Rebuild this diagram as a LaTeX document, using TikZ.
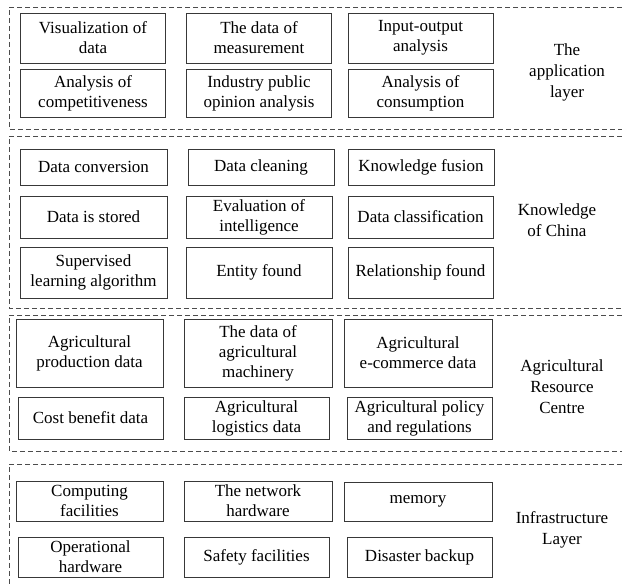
\documentclass[tikz,border=0pt]{standalone}
\usepackage{fontspec}
\setmainfont{LiberationSerif}[Extension=.ttf, UprightFont=*-Regular,
  BoldFont=*-Bold, ItalicFont=*-Italic, BoldItalicFont=*-BoldItalic]
\begin{document}
\begin{tikzpicture}[x=1pt,y=-1pt,
  cellbox/.style={draw=black!78, line width=0.9pt, rectangle, inner sep=0pt,
    align=center, font=\fontsize{17}{20}\selectfont},
  layerlabel/.style={align=center, inner sep=0pt, font=\fontsize{17}{21}\selectfont},
  layerline/.style={draw=black!70, line width=0.8pt, dash pattern=on 5pt off 3pt}]
\useasboundingbox (0,0) rectangle (622,585);

% box given by its corners x1,y1,x2,y2
\newcommand\cellat[6]{%
  \node[cellbox, minimum width={#4-#2}, minimum height={#5-#3}]
    (#1) at ({(#2+#4)/2},{(#3+#5)/2}) {#6};}

% layer frames, open to the right
\draw[layerline] (622,7) -- (9,7) -- (9,129) -- (622,129);
\draw[layerline] (622,136) -- (9,136) -- (9,308) -- (622,308);
\draw[layerline] (622,315) -- (9,315) -- (9,451) -- (622,451);
\draw[layerline] (622,464) -- (9,464) -- (9,586);

% application layer
\cellat{a1}{20.5}{13}{165.5}{63}{Visualization of\\data}
\cellat{a2}{186.5}{13}{331.5}{63}{The data of\\measurement}
\cellat{a3}{348}{13}{493}{63}{Input-output\\analysis}
\cellat{a4}{20.5}{69}{165.5}{117}{Analysis of\\competitiveness}
\cellat{a5}{186.5}{69}{331.5}{117}{Industry public\\opinion analysis}
\cellat{a6}{348}{69}{493}{117}{Analysis of\\consumption}
\node[layerlabel] (la) at (567,72) {The\\application\\layer};

% knowledge layer
\cellat{k1}{20}{149}{167}{185}{Data conversion}
\cellat{k2}{188}{149}{334}{185}{Data cleaning}
\cellat{k3}{348}{149}{494}{185}{Knowledge fusion}
\cellat{k4}{20}{196}{167}{238}{Data is stored}
\cellat{k5}{186}{196}{332}{238}{Evaluation of\\intelligence}
\cellat{k6}{348}{196}{493}{238}{Data classification}
\cellat{k7}{20}{247}{167}{298}{Supervised\\learning algorithm}
\cellat{k8}{186}{247}{332}{298}{Entity found}
\cellat{k9}{348}{247}{493}{298}{Relationship found}
\node[layerlabel] (lk) at (557,220) {Knowledge\\of China};

% resource layer
\cellat{r1}{16}{319}{163}{387}{Agricultural\\production data}
\cellat{r2}{184}{319}{332}{387}{The data of\\agricultural\\machinery}
\cellat{r3}{344}{319}{492}{387}{Agricultural\\e-commerce data}
\cellat{r4}{18}{397}{163}{439}{Cost benefit data}
\cellat{r5}{184}{397}{329}{439}{Agricultural\\logistics data}
\cellat{r6}{347}{397}{492}{439}{Agricultural policy\\and regulations}
\node[layerlabel] (lr) at (562,387) {Agricultural\\Resource\\Centre};

% infrastructure layer
\cellat{i1}{16}{481}{163}{521}{Computing\\facilities}
\cellat{i2}{184}{481}{332}{521}{The network\\hardware}
\cellat{i3}{344}{482}{492}{521}{memory}
\cellat{i4}{18}{537}{163}{577}{Operational\\hardware}
\cellat{i5}{184}{537}{329}{577}{Safety facilities}
\cellat{i6}{347}{537}{492}{577}{Disaster backup}
\node[layerlabel] (li) at (562,530) {Infrastructure\\Layer};
\end{tikzpicture}
\end{document}
